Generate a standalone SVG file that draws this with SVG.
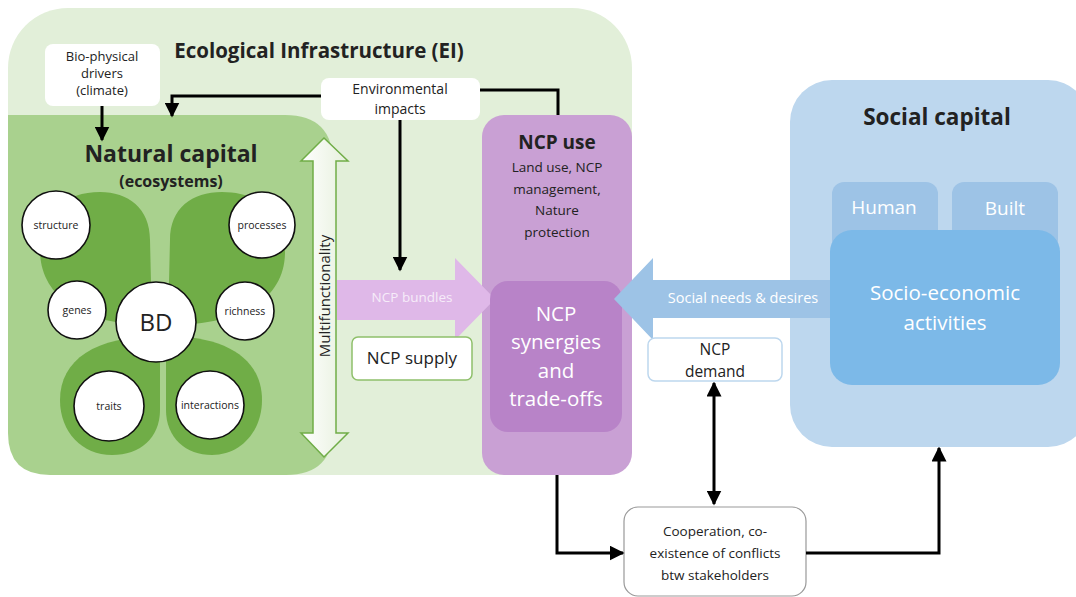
<svg xmlns="http://www.w3.org/2000/svg" width="1076" height="597" viewBox="0 0 1076 597">
<defs>
<style>
text{font-family:"Open Sans","Liberation Sans",sans-serif;text-anchor:middle;fill:#222}
.b{font-weight:bold}
.w{fill:#fff}
.conn{fill:none;stroke:#000;stroke-width:3}
.circ{fill:#fff;stroke:#111;stroke-width:1.6}
.petal{fill:#70ad47}
.sm{font-size:10.5px}
</style>
<marker id="ah" viewBox="0 0 10 10" refX="9" refY="5" markerWidth="5" markerHeight="5" orient="auto-start-reverse" markerUnits="strokeWidth">
<path d="M0,0 L10,5 L0,10 Z" fill="#000"/>
</marker>
<linearGradient id="mf" x1="0" y1="0" x2="1" y2="0">
<stop offset="0" stop-color="#ffffff"/>
<stop offset="1" stop-color="#e6f0dc"/>
</linearGradient>
</defs>
<rect width="1076" height="597" fill="#fff"/>

<g id="ei">
<rect x="8" y="8" width="624" height="467" rx="60" fill="#e2efd9"/>
<text x="319" y="58" class="b" font-size="20.5">Ecological Infrastructure (EI)</text>
</g>

<g id="natural-capital">
<path d="M8,115 H285 Q333,115 333,163 V428 Q333,475 286,475 H50 Q8,475 8,433 Z" fill="#a9d18e"/>
<text x="171" y="162" class="b" font-size="23">Natural capital</text>
<text x="171" y="187" class="b" font-size="16">(ecosystems)</text>
<path class="petal" d="M152,325 L150,240 C150,208 128,192 100,192 C66,192 40,212 40,250 C40,295 80,325 152,325 Z"/>
<path class="petal" d="M168,325 L170,240 C170,208 192,192 222,192 C260,192 285,215 285,252 C285,297 245,325 168,325 Z"/>
<path class="petal" d="M160,336 L160,410 C160,438 140,455 112,455 C82,455 60,432 60,400 C60,360 95,336 160,336 Z"/>
<path class="petal" d="M166,336 L166,410 C166,438 186,455 212,455 C240,455 262,432 262,400 C262,360 228,336 166,336 Z"/>
</g>

<g id="structure"><circle class="circ" cx="56" cy="225" r="34"/><text x="56" y="229" class="sm">structure</text></g>
<g id="processes"><circle class="circ" cx="262" cy="225" r="33"/><text x="262" y="229" class="sm">processes</text></g>
<g id="genes"><circle class="circ" cx="77" cy="310" r="29"/><text x="77" y="314" class="sm">genes</text></g>
<g id="bd"><circle class="circ" cx="156" cy="322" r="40"/><text x="156" y="331" font-size="24">BD</text></g>
<g id="richness"><circle class="circ" cx="245" cy="311" r="29"/><text x="245" y="315" class="sm">richness</text></g>
<g id="traits"><circle class="circ" cx="109" cy="406" r="35"/><text x="109" y="410" class="sm">traits</text></g>
<g id="interactions"><circle class="circ" cx="210" cy="405" r="34"/><text x="210" y="409" class="sm">interactions</text></g>

<g id="multifunctionality">
<path d="M324,138 L348,161 H336 V433 H348 L324,457 L301,433 H313 V161 H301 Z" fill="url(#mf)" stroke="#70ad47" stroke-width="1.5"/>
<text transform="translate(330,296) rotate(-90)" font-size="15">Multifunctionality</text>
</g>

<g id="bio-physical">
<rect x="45" y="44" width="115" height="62" rx="8" fill="#fff"/>
<text x="102" y="61" font-size="13">Bio-physical</text>
<text x="102" y="78" font-size="13">drivers</text>
<text x="102" y="95" font-size="13">(climate)</text>
</g>

<g id="env-impacts">
<rect x="321" y="78" width="159" height="42" rx="8" fill="#fff"/>
<text x="400" y="94" font-size="14">Environmental</text>
<text x="400" y="114" font-size="14">impacts</text>
</g>

<g id="ncp-use">
<rect x="482" y="115" width="150" height="360" rx="22" fill="#c9a0d4"/>
<text x="557" y="149" class="b" font-size="19">NCP use</text>
<text x="557" y="172" font-size="13.5">Land use, NCP</text>
<text x="557" y="194" font-size="13.5">management,</text>
<text x="557" y="215" font-size="13.5">Nature</text>
<text x="557" y="237" font-size="13.5">protection</text>
</g>

<g id="ncp-bundles">
<path d="M337,280 H455 V258 L495,299 L455,340 V320 H337 Z" fill="#dfb8e8"/>
<text x="412" y="302" font-size="13.5" style="fill:#f6ecf9">NCP bundles</text>
</g>

<g id="ncp-synergies">
<rect x="490" y="281" width="132" height="151" rx="18" fill="#b883c8"/>
<text x="556" y="321" class="w" font-size="20.5">NCP</text>
<text x="556" y="349" class="w" font-size="20.5">synergies</text>
<text x="556" y="378" class="w" font-size="20.5">and</text>
<text x="556" y="406" class="w" font-size="20.5">trade-offs</text>
</g>

<g id="ncp-supply">
<rect x="352" y="337" width="120" height="43" rx="6" fill="#fff" stroke="#8fc06b" stroke-width="1.5"/>
<text x="412" y="364" font-size="17">NCP supply</text>
</g>

<g id="social-capital">
<rect x="790" y="80" width="300" height="367" rx="42" fill="#bdd7ee"/>
<text x="937" y="125" class="b" font-size="22.5">Social capital</text>
<rect x="832" y="182" width="106" height="70" rx="12" fill="#9dc3e6"/>
<rect x="952" y="182" width="106" height="70" rx="12" fill="#9dc3e6"/>
<text x="884" y="214" class="w" font-size="19">Human</text>
<text x="1005" y="215" class="w" font-size="19">Built</text>
</g>

<g id="social-needs">
<path d="M832,280 H653 V258 L614,299 L653,340 V318 H832 Z" fill="#9dc3e6"/>
<text x="743" y="303" class="w" font-size="14.5">Social needs &amp; desires</text>
</g>

<g id="socio-economic">
<rect x="830" y="230" width="230" height="155" rx="22" fill="#7cb9e8"/>
<text x="945" y="300" class="w" font-size="20.5">Socio-economic</text>
<text x="945" y="330" class="w" font-size="20.5">activities</text>
</g>

<g id="ncp-demand">
<rect x="648" y="338" width="134" height="43" rx="7" fill="#fff" stroke="#bdd7ee" stroke-width="1.5"/>
<text x="715" y="355" font-size="15.5">NCP</text>
<text x="715" y="377" font-size="15.5">demand</text>
</g>

<g id="cooperation">
<rect x="624" y="507" width="182" height="89" rx="14" fill="#fff" stroke="#999" stroke-width="1.2"/>
<text x="715" y="536" font-size="13.5">Cooperation, co-</text>
<text x="715" y="558" font-size="13.5">existence of conflicts</text>
<text x="715" y="580" font-size="13.5">btw stakeholders</text>
</g>

<g id="connectors">
<path class="conn" d="M102,106 V140" marker-end="url(#ah)"/>
<path class="conn" d="M321,96 H172 V116" marker-end="url(#ah)"/>
<path class="conn" d="M558,115 V90 H480"/>
<path class="conn" d="M400,120 V270" marker-end="url(#ah)"/>
<path class="conn" d="M714,383 V504" marker-start="url(#ah)" marker-end="url(#ah)"/>
<path class="conn" d="M557,475 V553 H623" marker-end="url(#ah)"/>
<path class="conn" d="M806,553 H939 V448" marker-end="url(#ah)"/>
</g>
</svg>
